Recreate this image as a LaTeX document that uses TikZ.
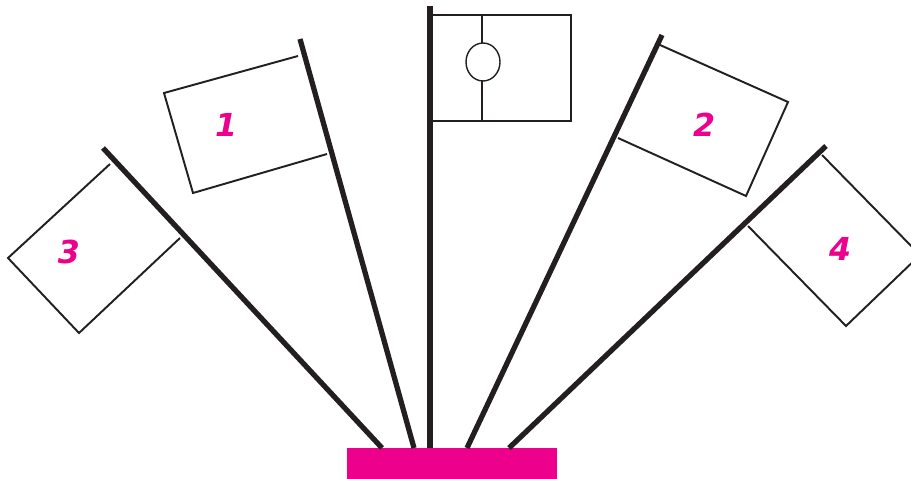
\documentclass[tikz,border=0pt]{standalone}
\usepackage{fontspec}
\newfontfamily\numfont{DejaVu Sans}
\definecolor{mag}{HTML}{EC008C}
\definecolor{ink}{HTML}{231F20}
\begin{document}
\begin{tikzpicture}[x=0.02cm,y=-0.02cm,
  flagbox/.style={draw=ink,line width=1.1pt,fill=white,line join=miter},
  pole/.style={draw=ink,line width=3pt},
  num/.style={text=mag,font=\numfont\bfseries\itshape\fontsize{18}{18}\selectfont,inner sep=0pt}]
\useasboundingbox (0,0) rectangle (911,479);
\begin{scope}
\clip (0,0) rectangle (911,479);
% base
\node[fill=mag,minimum width=210*0.02cm,minimum height=31*0.02cm,inner sep=0pt,anchor=north west] (base) at (347,448) {};
% flags
\draw[flagbox] (110,164) -- (8,258) -- (79,333) -- (180,238);
\draw[flagbox] (298,56) -- (164,93) -- (193,193) -- (327,154);
\draw[flagbox] (432,15) rectangle (571,121);
\draw[ink,line width=1.1pt] (482,15) -- (482,43) (482,81) -- (482,121);
\draw[ink,line width=0.8pt] (483,62) ellipse [x radius=17, y radius=19];
\draw[flagbox] (660,45) -- (788,102) -- (746,196) -- (618,138);
\draw[flagbox] (822,155) -- (920,255) -- (846,326) -- (748,226);
% pole ends
\coordinate (t3) at (103,148); \coordinate (b3) at (382,448);
\coordinate (t1) at (300,39);  \coordinate (b1) at (414,448);
\coordinate (tc) at (430,6);   \coordinate (bc) at (430,448);
\coordinate (t2) at (662,35);  \coordinate (b2) at (467,448);
\coordinate (t4) at (826,146); \coordinate (b4) at (509,448);
\draw[pole] (t3) -- (b3);
\draw[pole] (t1) -- (b1);
\draw[pole] (tc) -- (bc);
\draw[pole] (t2) -- (b2);
\draw[pole] (t4) -- (b4);
% numbers
\node[num] (n1) at (226,125) {1};
\node[num] (n2) at (704,125) {2};
\node[num] (n3) at (69,252) {3};
\node[num] (n4) at (840,249) {4};
\end{scope}
\end{tikzpicture}
\end{document}
